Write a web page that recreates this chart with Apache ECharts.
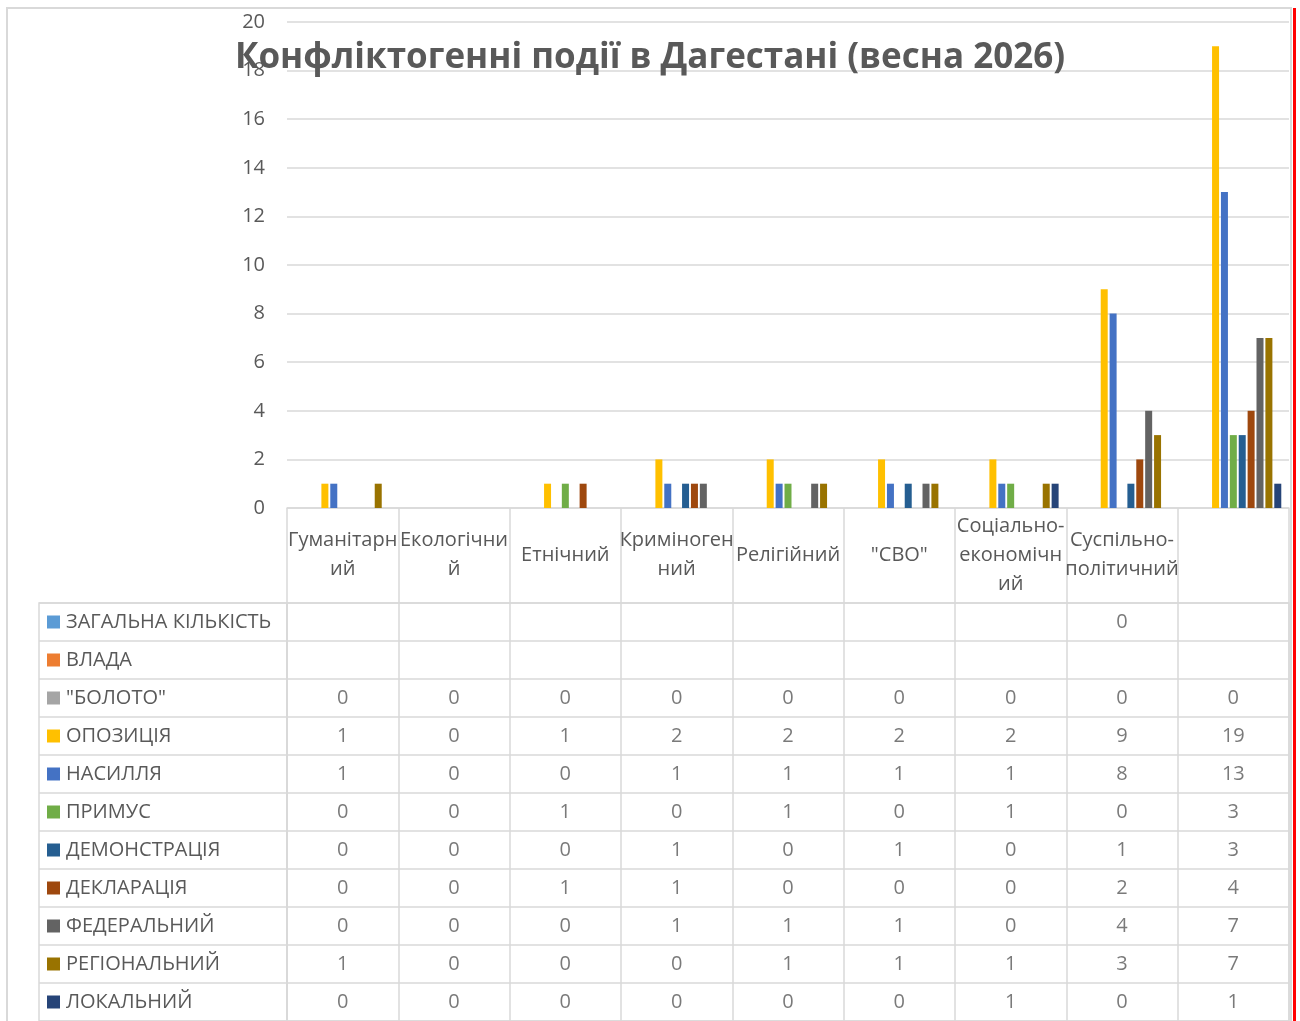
<!DOCTYPE html>
<html><head><meta charset="utf-8">
<script src="https://cdn.jsdelivr.net/npm/echarts@6/dist/echarts.min.js"></script>
<style>html,body{margin:0;padding:0;background:#fff}#c{width:1300px;height:1021px}</style>
</head><body><div id="c"></div>
<script>
const titleText = 'Конфліктогенні події в Дагестані (весна 2026)';
const categories = ['Гуманітарний','Екологічний','Етнічний','Криміногенний','Релігійний','"СВО"','Соціально-економічний','Суспільно-політичний',''];
const categoryLabels = ['Гуманітарн\nий','Екологічни\nй','Етнічний','Криміноген\nний','Релігійний','"СВО"','Соціально-\nекономічн\nий','Суспільно-\nполітичний',''];
const seriesNames = ['ЗАГАЛЬНА КІЛЬКІСТЬ','ВЛАДА','"БОЛОТО"','ОПОЗИЦІЯ','НАСИЛЛЯ','ПРИМУС','ДЕМОНСТРАЦІЯ','ДЕКЛАРАЦІЯ','ФЕДЕРАЛЬНИЙ','РЕГІОНАЛЬНИЙ','ЛОКАЛЬНИЙ'];
const seriesColors = ['#5B9BD5','#ED7D31','#A5A5A5','#FFC000','#4472C4','#70AD47','#255E91','#9E480E','#636363','#997300','#264478'];
const zagalna   = [null,null,null,null,null,null,null,0,null];
const vlada     = [null,null,null,null,null,null,null,null,null];
const boloto    = [0,0,0,0,0,0,0,0,0];
const opozytsia = [1,0,1,2,2,2,2,9,19];
const nasyllia  = [1,0,0,1,1,1,1,8,13];
const prymus    = [0,0,1,0,1,0,1,0,3];
const demonstr  = [0,0,0,1,0,1,0,1,3];
const deklar    = [0,0,1,1,0,0,0,2,4];
const federal   = [0,0,0,1,1,1,0,4,7];
const regional  = [1,0,0,0,1,1,1,3,7];
const lokal     = [0,0,0,0,0,0,1,0,1];
const yTicks = [0,2,4,6,8,10,12,14,16,18,20];

const seriesData = [zagalna,vlada,boloto,opozytsia,nasyllia,prymus,demonstr,deklar,federal,regional,lokal];

const FONT = 'Open Sans';
const FS = 20;
const TXT = '#595959';
const LINE = '#d9d9d9';
const ROWH = 38.3;

const rich = { t: { fontSize: FS, color: TXT, fontFamily: FONT, padding: [0,0,0,6] } };
seriesColors.forEach((c, i) => { rich['m' + i] = { backgroundColor: c, width: 13, height: 13 }; });

const barSeries = seriesNames.map((n, i) => ({
  name: n, type: 'bar', xAxisIndex: 0, yAxisIndex: 0,
  data: seriesData[i], barWidth: 7, barGap: '27%',
  itemStyle: { color: seriesColors[i] }
}));

const tableData = [];
seriesData.forEach((arr, si) => arr.forEach((v, ci) => { if (v !== null) tableData.push([ci, si, v]); }));

const option = {
  animation: false,
  backgroundColor: '#fff',
  title: {
    text: titleText, left: 'center', top: 36,
    textStyle: { fontFamily: FONT, fontWeight: 'bold', fontSize: 35, color: TXT }
  },
  graphic: [
    { type: 'rect', shape: { x: 7, y: 8, width: 1284, height: 1040 }, style: { fill: 'none', stroke: LINE, lineWidth: 2 }, z: -1 },
    { type: 'rect', shape: { x: 1293, y: 8, width: 3, height: 1013 }, style: { fill: '#ff0000' }, z: 10 }
  ],
  grid: [
    { left: 287, right: 11, top: 22, height: 486 },
    { left: 287, width: 1002, top: 603, height: ROWH * 11, show: true, borderColor: LINE, borderWidth: 1.5 },
    { left: 39, width: 248, top: 603, height: ROWH * 11, show: true, borderColor: LINE, borderWidth: 1.5 }
  ],
  xAxis: [
    { type: 'category', gridIndex: 0, data: categories,
      axisLine: { lineStyle: { color: LINE, width: 1.5 } },
      axisTick: { show: true, interval: 0, length: 95, lineStyle: { color: LINE, width: 1.5 } },
      axisLabel: { interval: 0, margin: 47, verticalAlign: 'middle', fontSize: FS, lineHeight: 29, color: TXT, fontFamily: FONT,
        formatter: (v, i) => categoryLabels[i] } },
    { type: 'category', gridIndex: 1, data: categories,
      axisLine: { show: false }, axisTick: { show: false }, axisLabel: { show: false },
      splitLine: { show: true, interval: 0, lineStyle: { color: LINE, width: 1.5 } } },
    { type: 'value', gridIndex: 2, show: false }
  ],
  yAxis: [
    { type: 'value', gridIndex: 0, min: 0, max: 20, interval: 2,
      axisLine: { show: false }, axisTick: { show: false },
      axisLabel: { margin: 22, fontSize: FS, color: TXT, fontFamily: FONT,
        formatter: v => (yTicks.indexOf(v) >= 0 ? String(v) : '') },
      splitLine: { lineStyle: { color: LINE, width: 1.5 } } },
    { type: 'category', gridIndex: 1, data: seriesNames, inverse: true,
      axisLine: { show: false }, axisTick: { show: false }, axisLabel: { show: false },
      splitLine: { show: true, interval: 0, lineStyle: { color: LINE, width: 1.5 } } },
    { type: 'category', gridIndex: 2, data: seriesNames, inverse: true,
      axisLine: { show: false }, axisTick: { show: false },
      axisLabel: { inside: true, interval: 0, margin: 8, align: 'left', rich: rich,
        formatter: (v, i) => '{m' + i + '|}{t|' + v + '}' },
      splitLine: { show: true, interval: 0, lineStyle: { color: LINE, width: 1.5 } } }
  ],
  series: barSeries.concat([{
    type: 'scatter', xAxisIndex: 1, yAxisIndex: 1, data: tableData, symbolSize: 0,
    label: { show: true, position: 'inside', formatter: p => String(p.value[2]), fontSize: FS, color: TXT, fontFamily: FONT },
    silent: true
  }])
};
echarts.init(document.getElementById('c')).setOption(option);
</script></body></html>
